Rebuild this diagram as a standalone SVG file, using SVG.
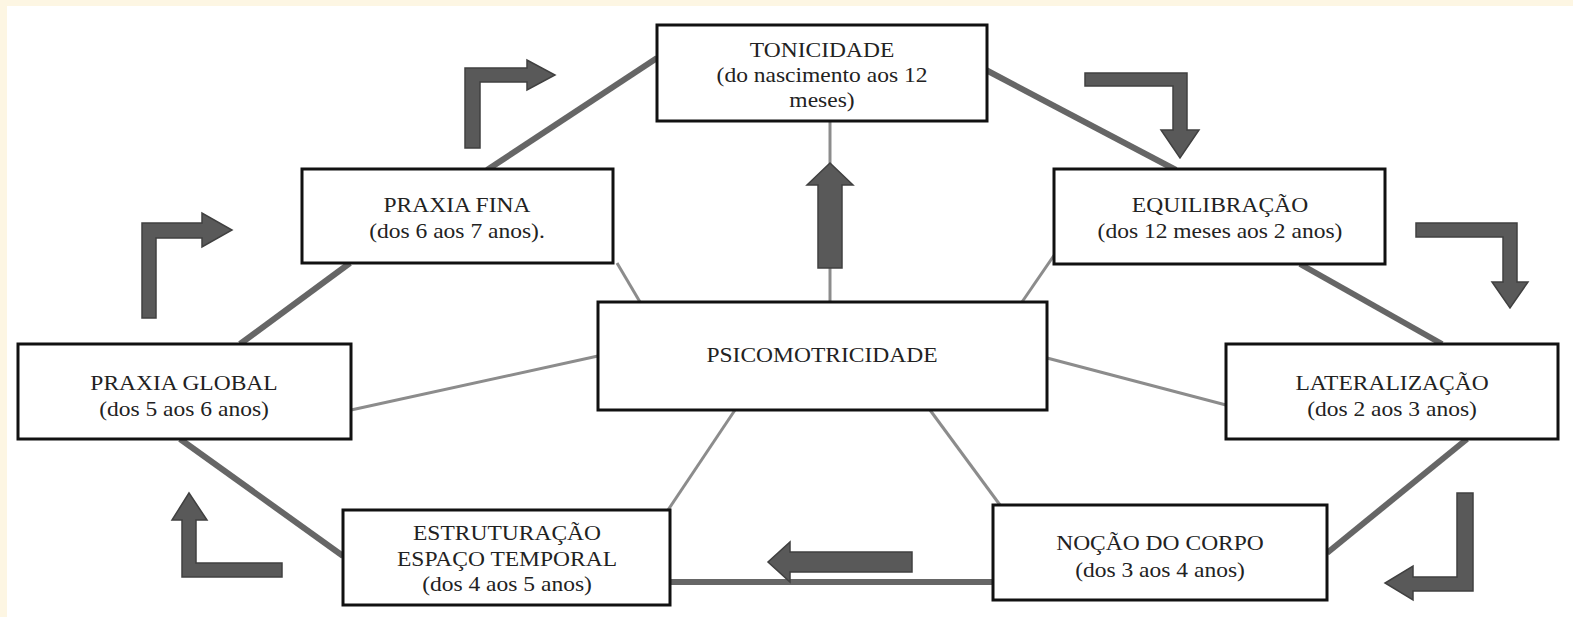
<svg xmlns="http://www.w3.org/2000/svg" width="1573" height="617" viewBox="0 0 1573 617">
<style>
.box{fill:#fff;stroke:#111;stroke-width:3}
.thick{stroke:#666;stroke-width:6;fill:none}
.thin{stroke:#8c8c8c;stroke-width:3;fill:none}
.barrow{fill:#595959;stroke:#404040;stroke-width:1.5}
text{font-family:"Liberation Serif","Times New Roman",serif;font-size:21px;fill:#222;text-anchor:middle}
</style>
<rect x="0" y="0" width="1573" height="617" fill="#fdf6e3"/>
<rect x="7" y="6" width="1566" height="611" fill="#fff"/>
<g id="connectors">
<line class="thick" x1="657" y1="58" x2="487" y2="170"/>
<line class="thick" x1="986" y1="70" x2="1176" y2="170"/>
<line class="thick" x1="1300" y1="264" x2="1442" y2="344"/>
<line class="thick" x1="1467" y1="439" x2="1327" y2="553"/>
<line class="thick" x1="993" y1="582" x2="670" y2="582"/>
<line class="thick" x1="343" y1="556" x2="180" y2="439"/>
<line class="thick" x1="240" y1="344" x2="350" y2="263"/>
<line class="thin" x1="830" y1="122" x2="830" y2="302"/>
<line class="thin" x1="617" y1="263" x2="640" y2="302"/>
<line class="thin" x1="1055" y1="254" x2="1022" y2="302"/>
<line class="thin" x1="1047" y1="358" x2="1226" y2="405"/>
<line class="thin" x1="930" y1="410" x2="1000" y2="505"/>
<line class="thin" x1="735" y1="410" x2="668" y2="510"/>
<line class="thin" x1="598" y1="356" x2="351" y2="410"/>
<path class="barrow" d="M465,148 L465,68 L527,68 L527,60 L555,75 L527,90 L527,82 L480,82 L480,148 Z"/>
<path class="barrow" d="M142,318 L142,223 L202,223 L202,213 L232,230 L202,247 L202,238 L156,238 L156,318 Z"/>
<path class="barrow" d="M1085,73 L1187,73 L1187,130 L1199,130 L1180,158 L1161,130 L1173,130 L1173,86 L1085,86 Z"/>
<path class="barrow" d="M1416,223 L1517,223 L1517,282 L1528,282 L1510,308 L1492,282 L1503,282 L1503,237 L1416,237 Z"/>
<path class="barrow" d="M1457,493 L1473,493 L1473,591 L1413,591 L1413,600 L1385,583 L1413,566 L1413,577 L1457,577 Z"/>
<path class="barrow" d="M912,552 L912,572 L790,572 L790,582 L768,562 L790,542 L790,552 Z"/>
<path class="barrow" d="M282,563 L282,577 L182,577 L182,520 L172,520 L189,493 L207,520 L196,520 L196,563 Z"/>
<path class="barrow" d="M818,268 L818,185 L807,185 L830,163 L853,185 L842,185 L842,268 Z"/>
</g>
<g id="tonicidade">
<rect class="box" x="657" y="25" width="330" height="96"/>
<text transform="translate(822,57) scale(1.12,1)">TONICIDADE</text>
<text transform="translate(822,82) scale(1.12,1)">(do nascimento aos 12</text>
<text transform="translate(822,107) scale(1.12,1)">meses)</text>
</g>
<g id="praxia-fina">
<rect class="box" x="302" y="169" width="311" height="94"/>
<text transform="translate(457,212) scale(1.12,1)">PRAXIA  FINA</text>
<text transform="translate(457,238) scale(1.12,1)">(dos 6 aos 7 anos).</text>
</g>
<g id="equilibracao">
<rect class="box" x="1054" y="169" width="331" height="95"/>
<text transform="translate(1220,212) scale(1.12,1)">EQUILIBRAÇÃO</text>
<text transform="translate(1220,238) scale(1.12,1)">(dos 12 meses aos 2 anos)</text>
</g>
<g id="psicomotricidade">
<rect class="box" x="598" y="302" width="449" height="108"/>
<text transform="translate(822,362) scale(1.12,1)">PSICOMOTRICIDADE</text>
</g>
<g id="praxia-global">
<rect class="box" x="18" y="344" width="333" height="95"/>
<text transform="translate(184,390) scale(1.12,1)">PRAXIA  GLOBAL</text>
<text transform="translate(184,416) scale(1.12,1)">(dos 5 aos 6 anos)</text>
</g>
<g id="lateralizacao">
<rect class="box" x="1226" y="344" width="332" height="95"/>
<text transform="translate(1392,390) scale(1.12,1)">LATERALIZAÇÃO</text>
<text transform="translate(1392,416) scale(1.12,1)">(dos 2 aos 3 anos)</text>
</g>
<g id="nocao-do-corpo">
<rect class="box" x="993" y="505" width="334" height="95"/>
<text transform="translate(1160,550) scale(1.12,1)">NOÇÃO DO CORPO</text>
<text transform="translate(1160,577) scale(1.12,1)">(dos 3 aos 4 anos)</text>
</g>
<g id="estruturacao">
<rect class="box" x="343" y="510" width="327" height="95"/>
<text transform="translate(507,540) scale(1.12,1)">ESTRUTURAÇÃO</text>
<text transform="translate(507,566) scale(1.12,1)">ESPAÇO TEMPORAL</text>
<text transform="translate(507,591) scale(1.12,1)">(dos 4 aos 5 anos)</text>
</g>
</svg>
